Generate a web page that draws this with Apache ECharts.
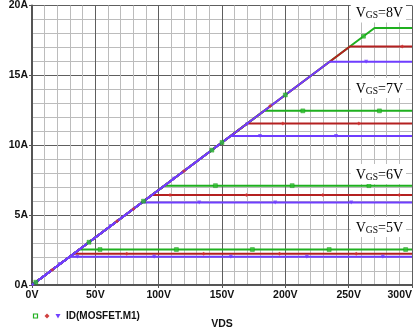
<!DOCTYPE html>
<html>
<head>
<meta charset="utf-8">
<script src="https://cdn.jsdelivr.net/npm/echarts@6/dist/echarts.min.js"></script>
<style>html,body{margin:0;padding:0;background:#fff}#c{width:418px;height:335px}</style>
</head>
<body>
<div id="c"></div>
<script>
// ---- data ----
const vgsValues = [5, 6, 7, 8];
const xTicks = [0, 50, 100, 150, 200, 250, 300];
const yTicks = [0, 5, 10, 15, 20];

// knee VDS (V) and saturation current (A) for each VGS, per sweep trace
const greenKneeV  = [37.4, 104.6, 183.2, 270.4];
const greenSatA   = [2.54, 7.11, 12.46, 18.39];
const redKneeV    = [32.9, 94.7, 170.0, 251.0];
const redSatA     = [2.24, 6.44, 11.56, 17.07];
const purpleKneeV = [29.9, 86.8, 156.8, 234.9];
const purpleSatA  = [2.03, 5.90, 10.66, 15.97];

// marker positions [VDS, ID]
const greenMarks = [[53.7,2.54],[114,2.54],[174,2.54],[234.6,2.54],[295,2.54],
  [144.8,7.11],[205.4,7.11],[266,7.11],[213.8,12.46],[274.3,12.46],[261.7,17.8],
  [3,0.2],[45,3.06],[88,6.0],[142,9.65],[150,10.2],[200,13.6]];
const redMarks = [[74.8,2.24],[135.5,2.24],[195.4,2.24],[256,2.24],
  [109,6.44],[169.3,6.44],[229.6,6.44],[290,6.44],[292.3,17.07],
  [198,11.56],[258,11.56],[16,1.09],[67,4.56],[80,5.44],[120,8.16],[188,12.8]];
const purpleMarks = [[35.8,2.03],[96.4,2.03],[157,2.03],[217,2.03],[277,2.03],
  [132,5.90],[192,5.90],[252,5.90],[263.8,15.97],[180,10.66],[240,10.66],
  [22,1.5],[62,4.2],[112,7.6],[170,11.5]];

const colors = {green:'#1fb01f', red:'#b42020', purple:'#6f3dff'};

function curve(knee, sat){ return [[0,0],[knee,sat],[300,sat]]; }

const series = [];
[['green',greenKneeV,greenSatA],['red',redKneeV,redSatA],['purple',purpleKneeV,purpleSatA]]
.forEach(([c,k,s])=>{
  k.forEach((kv,i)=>{
    series.push({type:'line', data:curve(kv,s[i]), showSymbol:false, silent:true,
      lineStyle:{color:colors[c], width:2}, itemStyle:{color:colors[c]}, z:2});
  });
});
series.push({type:'scatter', data:greenMarks, symbol:'rect', symbolSize:4,
  itemStyle:{color:'#2cc02c', borderColor:'#139013', borderWidth:0.5}, z:4});
series.push({type:'scatter', data:redMarks, symbol:'diamond', symbolSize:4,
  itemStyle:{color:'#d03030'}, z:4});
series.push({type:'scatter', data:purpleMarks, symbol:'triangle', symbolRotate:180, symbolSize:4,
  itemStyle:{color:'#6f3dff'}, z:4});

const labelYs = [227, 174, 88, 12.5];
const graphics = vgsValues.map((v,i)=>({
  type:'text', x:406, y:labelYs[i], z:100,
  style:{
    text:'{a|V}{b|GS}{a|='+v+'V}', align:'right', verticalAlign:'middle',
    backgroundColor:'#fff', padding:[2,3,2,5],
    rich:{
      a:{fontFamily:'Liberation Serif', fontSize:14, fill:'#000', lineHeight:16, verticalAlign:'bottom'},
      b:{fontFamily:'Liberation Serif', fontSize:9.5, fill:'#000', lineHeight:16, verticalAlign:'bottom'}
    }
  }
}));
// legend
graphics.push({type:'rect', shape:{x:33.5,y:314,width:4,height:4}, style:{fill:'#fff', stroke:'#20b020', lineWidth:1.2}, z:100});
graphics.push({type:'polygon', shape:{points:[[47,313.5],[49.5,316],[47,318.5],[44.5,316]]}, style:{fill:'#d04040'}, z:100});
graphics.push({type:'polygon', shape:{points:[[55.5,314],[60.5,314],[58,318.5]]}, style:{fill:'#7040ff'}, z:100});
graphics.push({type:'text', x:66, y:316.5, z:100, style:{text:'ID(MOSFET.M1)', fontFamily:'Liberation Sans',
  fontWeight:'bold', fontSize:10, fill:'#111', verticalAlign:'middle'}});

const chart = echarts.init(document.getElementById('c'), null, {renderer:'canvas'});
chart.setOption({
  animation:false,
  backgroundColor:'#fff',
  grid:{left:32, right:6, top:5, bottom:41, containLabel:false},
  xAxis:{type:'value', min:xTicks[0], max:xTicks[xTicks.length-1], interval:50,
    name:'VDS', nameLocation:'middle', nameGap:34,
    nameTextStyle:{fontFamily:'Liberation Sans', fontWeight:'bold', fontSize:10.5, color:'#111'},
    axisLine:{show:true, onZero:false, lineStyle:{color:'#555', width:2}},
    axisTick:{show:true, length:3, lineStyle:{color:'#555'}},
    axisLabel:{formatter:'{value}V', fontFamily:'Liberation Sans', fontWeight:'bold', fontSize:10.5, color:'#111', margin:5, alignMaxLabel:'right'},
    splitLine:{show:true, lineStyle:{color:'#5e5e5e', width:1}},
    minorTick:{show:false, splitNumber:5},
    minorSplitLine:{show:true, lineStyle:{color:'#bcbcbc', width:1}}
  },
  yAxis:{type:'value', min:yTicks[0], max:yTicks[yTicks.length-1], interval:5,
    axisLine:{show:true, onZero:false, lineStyle:{color:'#555', width:2}},
    axisTick:{show:true, length:3, lineStyle:{color:'#555'}},
    axisLabel:{formatter:'{value}A', fontFamily:'Liberation Sans', fontWeight:'bold', fontSize:10.5, color:'#111', margin:4},
    splitLine:{show:true, lineStyle:{color:'#5e5e5e', width:1}},
    minorTick:{show:false, splitNumber:5},
    minorSplitLine:{show:true, lineStyle:{color:'#bcbcbc', width:1}}
  },
  graphic:graphics,
  series:series
});
</script>
</body>
</html>
